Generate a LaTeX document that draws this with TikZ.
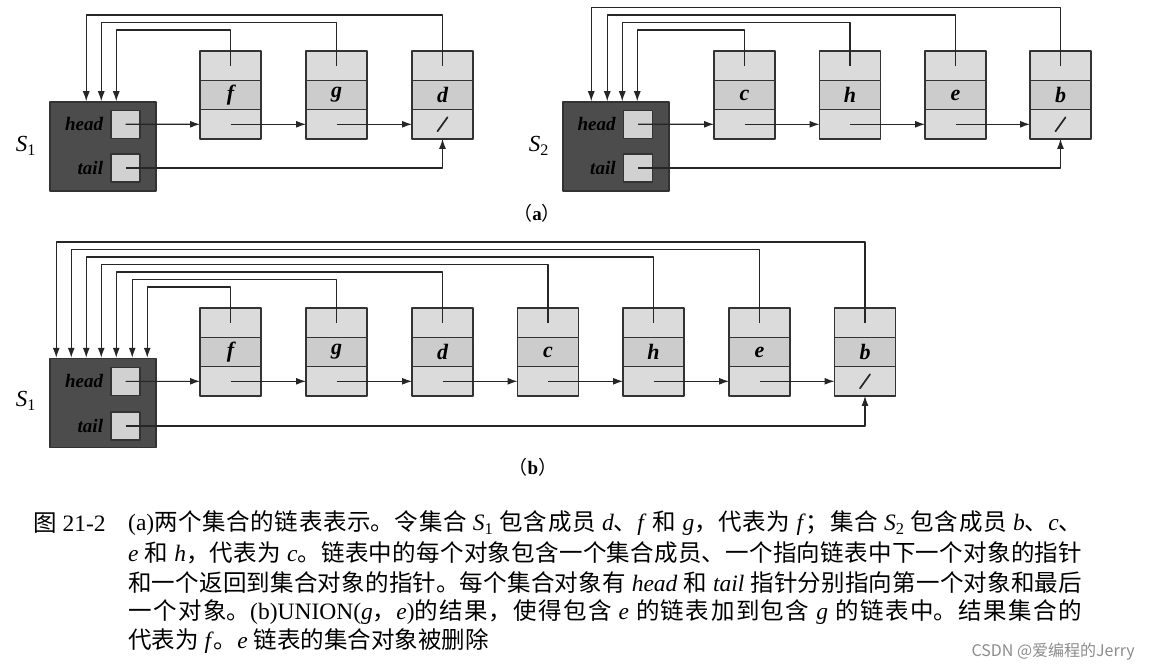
\documentclass[tikz,border=0pt]{standalone}
\usepackage{fontspec}
\setmainfont{Liberation Serif}
\newfontfamily\cjk{Noto Sans CJK SC}
\usetikzlibrary{arrows.meta,positioning}
\XeTeXlinebreaklocale "zh"
\XeTeXlinebreakskip=0pt plus 4pt

\begin{document}
\begin{tikzpicture}[x=1pt, y=-1pt, line join=round,
    conj/.style={draw=black!80, fill=black!70, line width=1.5pt,
      minimum width=106pt, minimum height=89pt, inner sep=0pt},
    casilla/.style={draw=black!80, fill=black!18, line width=1.5pt,
      minimum width=29pt, minimum height=28pt, inner sep=0pt},
    celda/.style={draw=black!80, fill=black!14, line width=1.5pt, outer sep=0pt,
      minimum width=61pt, minimum height=29.3pt, inner sep=0pt},
    miembro/.style={celda, fill=black!20, font=\fontsize{22}{22}\selectfont\bfseries\itshape},
    rotulo/.style={font=\fontsize{19}{19}\selectfont\bfseries\itshape, text=black, inner sep=0pt},
    nombre/.style={font=\fontsize{23}{23}\selectfont\itshape, inner sep=0pt},
    parte/.style={font=\fontsize{19}{19}\selectfont, inner sep=0pt},
    linea/.style={line width=1.1pt, draw=black!85},
    nil/.style={line width=1.7pt, draw=black!85, line cap=round},
    flecha/.style={linea, -{Latex[length=10pt,width=7pt]}},
    piebase/.style={font=\fontsize{23.5}{29.5}\selectfont, inner sep=0pt, anchor=west},
    pie/.style={piebase, text width=954pt, align=justify}]
  % el fondo y el marco de la pagina
  \fill[white] (0,0) rectangle (1149,671);
  \useasboundingbox (0,0) rectangle (1149,671);

  % (a) izquierda: el conjunto S1 con sus punteros head y tail
  \node[conj] (AS1) at (103,146.5) {};
  \node[casilla] (Ahead1) at (125.5,124.3) {};
  \node[casilla] (Atail1) at (125.5,168) {};
  \node[rotulo, left=7pt of Ahead1] (Ahead1-r) {head};
  \node[rotulo, left=7pt of Atail1] (Atail1-r) {tail};
  \node[nombre] (AS1-n) at (26,146) {S\textsubscript{\upshape 1}};
  % los objetos f, g, d
  \foreach \n/\x in {f/230.5, g/336.5, d/442.5} {
    \node[celda] (A\n-t) at (\x,65.7) {};
    \node[miembro, below=0pt of A\n-t] (A\n-m) {\n};
    \node[celda, below=0pt of A\n-m] (A\n-p) {};
  }
  \draw[flecha] (Ahead1.center) -- (Af-p.west);
  \foreach \a/\b in {f/g, g/d} { \draw[flecha] (A\a-p.center) -- (A\b-p.west); }
  \draw[nil] (Ad-p.center) ++(-5,7) -- ++(10,-14);
  \draw[flecha] (Atail1.center) -| (Ad-p.south);
  % de cada objeto de vuelta al conjunto
  \foreach \n/\dx/\y in {f/67/30, g/52/22.5, d/37/15} {
    \draw[flecha] (A\n-t.center) -- (A\n-t.center |- 0,\y) -| ([xshift=\dx pt]AS1.north west);
  }

  % (a) derecha: el conjunto S2
  \node[conj] (AS2) at (616,146.5) {};
  \node[casilla] (Ahead2) at (638,124.3) {};
  \node[casilla] (Atail2) at (638,168) {};
  \node[rotulo, left=7pt of Ahead2] (Ahead2-r) {head};
  \node[rotulo, left=7pt of Atail2] (Atail2-r) {tail};
  \node[nombre] (AS2-n) at (539,146) {S\textsubscript{\upshape 2}};
  % los objetos c, h, e, b
  \foreach \n/\x in {c/744.5, h/850, e/955.5, b/1060.5} {
    \node[celda] (A\n-t) at (\x,65.7) {};
    \node[miembro, below=0pt of A\n-t] (A\n-m) {\n};
    \node[celda, below=0pt of A\n-m] (A\n-p) {};
  }
  \draw[flecha] (Ahead2.center) -- (Ac-p.west);
  \foreach \a/\b in {c/h, h/e, e/b} { \draw[flecha] (A\a-p.center) -- (A\b-p.west); }
  \draw[nil] (Ab-p.center) ++(-5,7) -- ++(10,-14);
  \draw[flecha] (Atail2.center) -| (Ab-p.south);
  \foreach \n/\dx/\y in {c/75/30, h/60/22.5, e/45/15, b/29/7.5} {
    \draw[flecha] (A\n-t.center) -- (A\n-t.center |- 0,\y) -| ([xshift=\dx pt]AS2.north west);
  }
  \node[parte] (Aa) at (537,213) {{\cjk （}\textbf{a}{\cjk ）}};

  % (b) la union: un solo conjunto S1 con los siete objetos
  \node[conj] (US1) at (103,403) {};
  \node[casilla] (Uhead1) at (125.5,381.3) {};
  \node[casilla] (Utail1) at (125.5,426) {};
  \node[rotulo, left=7pt of Uhead1] (Uhead1-r) {head};
  \node[rotulo, left=7pt of Utail1] (Utail1-r) {tail};
  \node[nombre] (US1-n) at (26,401) {S\textsubscript{\upshape 1}};
  \foreach \n/\x in {f/230.5, g/336.5, d/442.5, c/548, h/653.5, e/759.5, b/865} {
    \node[celda] (U\n-t) at (\x,322.7) {};
    \node[miembro, below=0pt of U\n-t] (U\n-m) {\n};
    \node[celda, below=0pt of U\n-m] (U\n-p) {};
  }
  \draw[flecha] (Uhead1.center) -- (Uf-p.west);
  \foreach \a/\b in {f/g, g/d, d/c, c/h, h/e, e/b} { \draw[flecha] (U\a-p.center) -- (U\b-p.west); }
  \draw[nil] (Ub-p.center) ++(-5,7) -- ++(10,-14);
  \draw[flecha] (Utail1.center) -| (Ub-p.south);
  \foreach \n/\dx/\y in {f/98/287, g/83/279.5, d/67/272, c/52/264.5, h/37/257, e/22/249.5, b/7/242} {
    \draw[flecha] (U\n-t.center) -- (U\n-t.center |- 0,\y) -| ([xshift=\dx pt]US1.north west);
  }
  \node[parte] (Ub) at (533,467) {{\cjk （}\textbf{b}{\cjk ）}};

  % el pie de figura
  \node[piebase] (fig) at (33,523) {{\cjk 图} 21-2};
  \node[pie] (pie1) at (128,523) {\parfillskip=0pt\relax (a){\cjk 两个集合的链表表示。令集合} \textit{S}\textsubscript{1} {\cjk 包含成员} \textit{d}{\cjk 、}\textit{f} {\cjk 和} \textit{g}{\cjk ，代表为} \textit{f}{\cjk ；集合} \textit{S}\textsubscript{2} {\cjk 包含成员} \textit{b}{\cjk 、}\textit{c}{\cjk 、}\par};
  \node[pie] (pie2) at (128,553) {\parfillskip=0pt\relax \textit{e} {\cjk 和} \textit{h}{\cjk ，代表为} \textit{c}{\cjk 。链表中的每个对象包含一个集合成员、一个指向链表中下一个对象的指针}\par};
  \node[pie] (pie3) at (128,583) {\parfillskip=0pt\relax {\cjk 和一个返回到集合对象的指针。每个集合对象有} \textit{head} {\cjk 和} \textit{tail} {\cjk 指针分别指向第一个对象和最后}\par};
  \node[pie] (pie4) at (128,612) {\parfillskip=0pt\relax {\cjk 一个对象。}(b)UNION(\textit{g}{\cjk ，}\textit{e}){\cjk 的结果，使得包含} \textit{e} {\cjk 的链表加到包含} \textit{g} {\cjk 的链表中。结果集合的}\par};
  \node[piebase] (pie5) at (128,641) {{\cjk 代表为} \textit{f}{\cjk 。}\textit{e} {\cjk 链表的集合对象被删除}};
  \node[font={\fontsize{16}{16}\selectfont\cjk}, text=black!45, inner sep=0pt, anchor=east] (marca) at (1135,652) {CSDN @爱编程的Jerry};
\end{tikzpicture}
\end{document}
